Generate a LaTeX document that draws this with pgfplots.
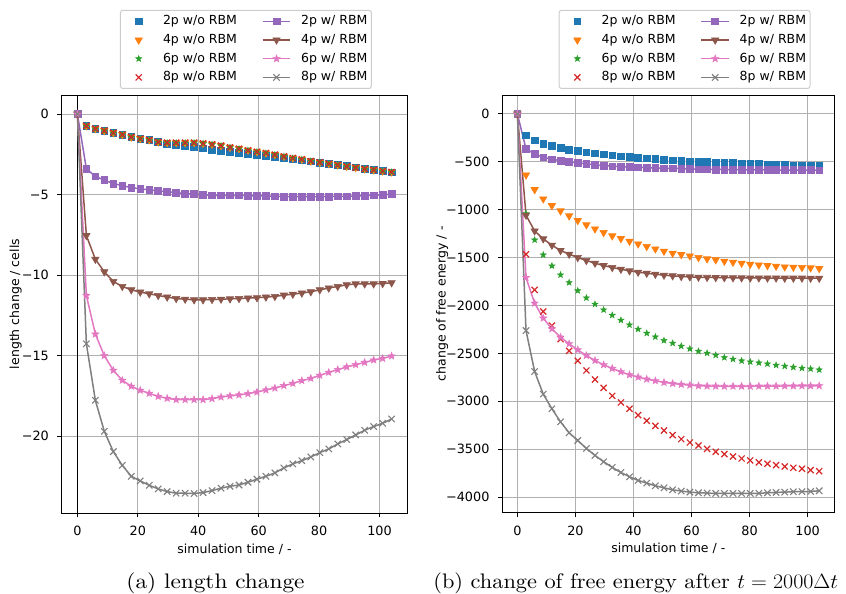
\documentclass[border=0pt]{standalone}
\usepackage{fontspec}
\usepackage{graphicx}
\usepackage{pgfplots}
\usepackage{pgfplotstable}
\pgfplotsset{compat=1.18}
\newfontfamily\dejavu{DejaVu Sans}
\newcommand\fs{\dejavu\fontsize{12.5bp}{15bp}\selectfont}
\newcommand\fst{\dejavu\fontsize{12.8bp}{15bp}\selectfont}
\font\capfnt="[lmroman10-regular]:mapping=tex-text" at 21bp
\definecolor{c0}{HTML}{1F77B4}
\definecolor{c1}{HTML}{FF7F0E}
\definecolor{c2}{HTML}{2CA02C}
\definecolor{c3}{HTML}{D62728}
\definecolor{c4}{HTML}{9467BD}
\definecolor{c5}{HTML}{8C564B}
\definecolor{c6}{HTML}{E377C2}
\definecolor{c7}{HTML}{7F7F7F}
\definecolor{gridgray}{HTML}{B0B0B0}
\definecolor{leggray}{HTML}{CCCCCC}

\pgfdeclareplotmark{fstar}{%
\pgfpathmoveto{\pgfpointpolar{90}{\pgfplotmarksize}}%
\pgfpathlineto{\pgfpointpolar{126}{0.42\pgfplotmarksize}}%
\pgfpathlineto{\pgfpointpolar{162}{\pgfplotmarksize}}%
\pgfpathlineto{\pgfpointpolar{198}{0.42\pgfplotmarksize}}%
\pgfpathlineto{\pgfpointpolar{234}{\pgfplotmarksize}}%
\pgfpathlineto{\pgfpointpolar{270}{0.42\pgfplotmarksize}}%
\pgfpathlineto{\pgfpointpolar{306}{\pgfplotmarksize}}%
\pgfpathlineto{\pgfpointpolar{342}{0.42\pgfplotmarksize}}%
\pgfpathlineto{\pgfpointpolar{18}{\pgfplotmarksize}}%
\pgfpathlineto{\pgfpointpolar{54}{0.42\pgfplotmarksize}}%
\pgfpathclose\pgfusepathqfillstroke}

\pgfplotstableread{
t a2 a4 a6 a8 b2 b4 b6 b8
0 0 0 0 0 0 0 0 0
2.97 -0.74 -0.74 -0.75 -0.74 -3.41 -7.55 -11.27 -14.27
5.94 -0.91 -0.91 -0.92 -0.91 -3.87 -9.02 -13.67 -17.78
8.91 -1.03 -1.03 -1.04 -1.03 -4.11 -9.80 -15.01 -19.71
11.89 -1.16 -1.16 -1.17 -1.16 -4.32 -10.40 -15.92 -20.97
14.86 -1.28 -1.28 -1.29 -1.28 -4.45 -10.71 -16.54 -21.82
17.83 -1.43 -1.43 -1.44 -1.43 -4.57 -10.92 -16.91 -22.50
20.80 -1.53 -1.53 -1.54 -1.53 -4.65 -11.06 -17.16 -22.79
23.77 -1.61 -1.61 -1.62 -1.61 -4.71 -11.17 -17.35 -23.06
26.74 -1.74 -1.74 -1.75 -1.74 -4.78 -11.27 -17.54 -23.28
29.71 -1.86 -1.78 -1.79 -1.78 -4.82 -11.37 -17.66 -23.45
32.69 -1.92 -1.78 -1.79 -1.78 -4.88 -11.46 -17.74 -23.55
35.66 -1.99 -1.78 -1.79 -1.78 -4.94 -11.50 -17.74 -23.55
38.63 -2.05 -1.78 -1.79 -1.78 -4.98 -11.54 -17.74 -23.57
41.60 -2.13 -1.82 -1.83 -1.82 -5.02 -11.54 -17.74 -23.51
44.57 -2.23 -1.88 -1.89 -1.88 -5.05 -11.52 -17.68 -23.39
47.54 -2.30 -1.96 -1.97 -1.96 -5.05 -11.50 -17.58 -23.24
50.51 -2.36 -2.07 -2.08 -2.07 -5.05 -11.48 -17.51 -23.12
53.49 -2.42 -2.15 -2.16 -2.15 -5.05 -11.46 -17.45 -23.04
56.46 -2.48 -2.25 -2.26 -2.25 -5.07 -11.43 -17.37 -22.87
59.43 -2.54 -2.34 -2.35 -2.34 -5.09 -11.41 -17.27 -22.68
62.40 -2.61 -2.42 -2.43 -2.42 -5.09 -11.37 -17.14 -22.50
65.37 -2.67 -2.52 -2.53 -2.52 -5.11 -11.33 -17.02 -22.29
68.34 -2.73 -2.63 -2.64 -2.63 -5.13 -11.25 -16.87 -21.98
71.31 -2.81 -2.73 -2.74 -2.73 -5.13 -11.19 -16.73 -21.73
74.29 -2.87 -2.81 -2.82 -2.81 -5.13 -11.12 -16.56 -21.53
77.26 -2.94 -2.92 -2.93 -2.92 -5.13 -11.04 -16.42 -21.30
80.23 -3.02 -3.00 -3.01 -3.00 -5.13 -10.92 -16.23 -21.03
83.20 -3.08 -3.08 -3.09 -3.08 -5.13 -10.81 -16.05 -20.80
86.17 -3.14 -3.16 -3.17 -3.16 -5.11 -10.71 -15.88 -20.49
89.14 -3.23 -3.25 -3.26 -3.25 -5.11 -10.61 -15.71 -20.22
92.11 -3.31 -3.33 -3.34 -3.33 -5.09 -10.55 -15.57 -19.93
95.09 -3.39 -3.41 -3.42 -3.41 -5.07 -10.55 -15.43 -19.64
98.06 -3.47 -3.47 -3.48 -3.47 -5.05 -10.55 -15.28 -19.41
101.03 -3.54 -3.54 -3.55 -3.54 -5.02 -10.53 -15.18 -19.21
104.00 -3.62 -3.60 -3.61 -3.60 -4.98 -10.48 -15.03 -18.94
}\lentab

\pgfplotstableread{
t a2 a4 a6 a8 b2 b4 b6 b8
0 0 0 0 0 0 0 0 0
2.97 -223 -637 -1040 -1464 -365 -1057 -1708 -2261
5.94 -275 -790 -1315 -1837 -417 -1221 -1976 -2689
8.91 -310 -887 -1471 -2063 -452 -1304 -2132 -2925
11.89 -334 -957 -1586 -2209 -473 -1370 -2243 -3078
14.86 -355 -1012 -1680 -2351 -487 -1426 -2331 -3214
17.83 -372 -1064 -1760 -2473 -501 -1464 -2400 -3329
20.80 -386 -1113 -1845 -2577 -511 -1499 -2463 -3409
23.77 -400 -1158 -1920 -2678 -522 -1530 -2522 -3492
26.74 -410 -1200 -1986 -2772 -532 -1558 -2574 -3565
29.71 -421 -1238 -2045 -2859 -539 -1583 -2619 -3631
32.69 -431 -1273 -2101 -2943 -546 -1603 -2657 -3690
35.66 -442 -1301 -2153 -3012 -550 -1621 -2692 -3743
38.63 -449 -1329 -2202 -3078 -553 -1638 -2723 -3788
41.60 -456 -1357 -2247 -3144 -557 -1652 -2748 -3826
44.57 -463 -1384 -2289 -3203 -560 -1663 -2769 -3854
47.54 -470 -1409 -2327 -3256 -563 -1673 -2786 -3882
50.51 -477 -1433 -2365 -3304 -567 -1683 -2803 -3903
53.49 -483 -1454 -2393 -3353 -568 -1690 -2814 -3924
56.46 -487 -1468 -2424 -3395 -570 -1697 -2824 -3937
59.43 -494 -1482 -2452 -3430 -574 -1701 -2831 -3948
62.40 -497 -1499 -2477 -3461 -577 -1704 -2838 -3955
65.37 -501 -1513 -2497 -3496 -578 -1706 -2841 -3958
68.34 -504 -1523 -2518 -3527 -579 -1708 -2842 -3962
71.31 -508 -1537 -2543 -3551 -580 -1709 -2843 -3962
74.29 -511 -1548 -2560 -3576 -581 -1710 -2843 -3962
77.26 -515 -1558 -2577 -3597 -582 -1711 -2843 -3962
80.23 -518 -1569 -2588 -3617 -583 -1712 -2843 -3962
83.20 -522 -1576 -2598 -3638 -584 -1712 -2842 -3960
86.17 -525 -1583 -2609 -3652 -585 -1713 -2842 -3955
89.14 -529 -1590 -2623 -3666 -585 -1713 -2841 -3951
92.11 -532 -1597 -2633 -3680 -586 -1714 -2840 -3948
95.09 -536 -1600 -2644 -3694 -586 -1714 -2840 -3944
98.06 -539 -1603 -2654 -3704 -587 -1714 -2839 -3943
101.03 -540 -1607 -2661 -3718 -587 -1715 -2839 -3941
104.00 -543 -1614 -2671 -3729 -588 -1715 -2838 -3934
}\entab

\pgfplotsset{
  legline/.style={legend image code/.code={\draw[sharp corners,mark repeat=2,mark phase=2,##1] plot coordinates {(0bp,0bp) (13.8bp,0bp) (27.6bp,0bp)};}},
  legmark/.style={legend image code/.code={\path (0bp,0bp) (27.6bp,0bp); \draw[sharp corners,##1] plot coordinates {(13.8bp,0bp)};}},
  sA2/.style={only marks, color=c0, mark=square*, mark size=3.4bp, mark options={solid, line width=0.6bp}},
  sA4/.style={only marks, color=c1, mark=triangle*, mark size=4.2bp, mark options={solid, rotate=180, line width=0.6bp}},
  sA6/.style={only marks, color=c2, mark=fstar, mark size=3.2bp, mark options={solid, line width=0.5bp}},
  sA8/.style={only marks, color=c3, mark=x, mark size=4.3bp, mark options={solid, line width=1.2bp}},
  sB2/.style={color=c4, line width=1.5bp, mark=square*, mark size=3.4bp, mark options={solid, line width=0.6bp}},
  sB4/.style={color=c5, line width=1.5bp, mark=triangle*, mark size=4.2bp, mark options={solid, rotate=180, line width=0.6bp}},
  sB6/.style={color=c6, line width=1.5bp, mark=fstar, mark size=3.8bp, mark options={solid, line width=0.5bp}},
  sB8/.style={color=c7, line width=1.5bp, mark=x, mark size=4.5bp, mark options={solid, line width=1.1bp}},
  base/.style={
    scale only axis,
    xmin=-5.2, xmax=109.2,
    axis line style={black, line width=1bp},
    grid=major,
    major grid style={color=gridgray, line width=1bp},
    tick align=outside,
    major tick length=4.4bp,
    every tick/.style={black, line width=1bp},
    tick pos=left,
    xtick={0,20,40,60,80,100},
    xticklabels={0,20,40,60,80,100},
    xticklabel style={font=\fst, inner sep=0pt, anchor=north, yshift=-8.7bp},
    yticklabel style={font=\fst, inner sep=0pt, anchor=east, xshift=-8.3bp},
    xlabel={simulation time / -},
    xlabel style={font=\fs, inner sep=0pt, at={(axis description cs:0.5,0)}, anchor=north, yshift=-30.5bp},
    ylabel style={font=\fs, inner sep=0pt, at={(axis description cs:0,0.5)}, anchor=south},
    legend columns=2,
    legend cell align=left,
    legend style={font=\fs, draw=leggray, line width=1bp, fill=white, rounded corners=2.5bp,
      inner xsep=4bp, inner ysep=5bp, row sep=6.6bp, anchor=south,
      nodes={inner sep=0pt, text height=9.5bp, text depth=2.6bp},
      /tikz/every odd column/.append style={column sep=10bp},
      /tikz/every even column/.append style={column sep=25bp}},
  },
}

\newcommand\legendall{%
  \addlegendimage{sA2,legmark}\addlegendentry{2p w/o RBM}
  \addlegendimage{sB2,legline}\addlegendentry{2p w/ RBM}
  \addlegendimage{sA4,legmark}\addlegendentry{4p w/o RBM}
  \addlegendimage{sB4,legline}\addlegendentry{4p w/ RBM}
  \addlegendimage{sA6,legmark}\addlegendentry{6p w/o RBM}
  \addlegendimage{sB6,legline}\addlegendentry{6p w/ RBM}
  \addlegendimage{sA8,legmark}\addlegendentry{8p w/o RBM}
  \addlegendimage{sB8,legline}\addlegendentry{8p w/ RBM}
}

\begin{document}
\begin{tikzpicture}
\useasboundingbox (0bp,0bp) rectangle (846bp,-594bp);
\begin{axis}[base,
  at={(61.7bp,-513bp)}, anchor=south west,
  width=345.6bp, height=418bp,
  ymin=-24.78, ymax=1.18,
  ytick={-20,-15,-10,-5,0},
  yticklabels={−20,−15,−10,−5,0},
  ylabel={length change / cells},
  ylabel style={yshift=39.7bp},
  legend style={at={(0.533,1.0144)}},
]
\addplot[black, line width=1.5bp, forget plot] coordinates {(0,-24.78) (0,1.18)};
\addplot[sA2, forget plot] table[x=t,y=a2] {\lentab};
\addplot[sA4, forget plot] table[x=t,y=a4] {\lentab};
\addplot[sA6, forget plot] table[x=t,y=a6] {\lentab};
\addplot[sA8, forget plot] table[x=t,y=a8] {\lentab};
\addplot[sB2, forget plot] table[x=t,y=b2] {\lentab};
\addplot[sB4, forget plot] table[x=t,y=b4] {\lentab};
\addplot[sB6, forget plot] table[x=t,y=b6] {\lentab};
\addplot[sB8, forget plot] table[x=t,y=b8] {\lentab};
\legendall
\end{axis}

\begin{axis}[base,
  at={(502.3bp,-512.7bp)}, anchor=south west,
  width=332bp, height=417.7bp,
  ymin=-4163, ymax=198,
  ytick={-4000,-3500,-3000,-2500,-2000,-1500,-1000,-500,0},
  yticklabels={−4000,−3500,−3000,−2500,−2000,−1500,−1000,−500,0},
  ylabel={change of free energy / -},
  ylabel style={yshift=54bp},
  legend style={at={(0.549,1.0144)}},
]
\addplot[sA2, forget plot] table[x=t,y=a2] {\entab};
\addplot[sA4, forget plot] table[x=t,y=a4] {\entab};
\addplot[sA6, forget plot] table[x=t,y=a6] {\entab};
\addplot[sA8, forget plot] table[x=t,y=a8] {\entab};
\addplot[sB2, forget plot] table[x=t,y=b2] {\entab};
\addplot[sB4, forget plot] table[x=t,y=b4] {\entab};
\addplot[sB6, forget plot] table[x=t,y=b6] {\entab};
\addplot[sB8, forget plot] table[x=t,y=b8] {\entab};
\legendall
\end{axis}

\node[anchor=base, inner sep=0pt] at (215.5bp,-588bp) {\scalebox{1.11}[1]{\fontsize{21bp}{25bp}\selectfont\capfnt (a) length change}};
\node[anchor=base, inner sep=0pt] at (635.8bp,-588bp) {\scalebox{1.065}[1]{\fontsize{21bp}{25bp}\selectfont\capfnt (b) change of free energy after $t=2000\Delta t$}};
\end{tikzpicture}
\end{document}
